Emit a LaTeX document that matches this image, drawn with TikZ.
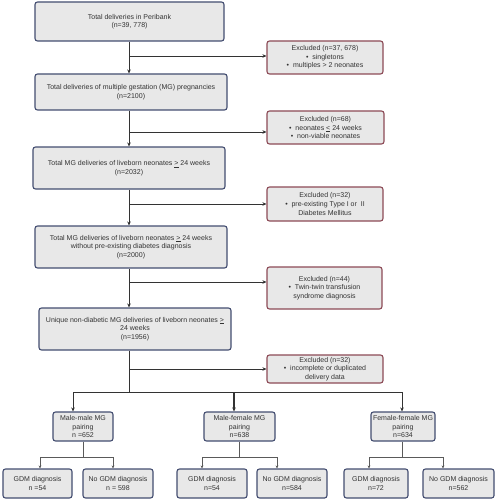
\documentclass[tikz,border=0pt]{standalone}
\usepackage{fontspec}
\setmainfont{Liberation Sans}
\usetikzlibrary{arrows.meta}
\definecolor{boxfill}{HTML}{E8E8E8}
\definecolor{mainborder}{HTML}{434D70}
\definecolor{exborder}{HTML}{8C4A56}
\definecolor{linecol}{HTML}{333333}
\definecolor{leafline}{HTML}{5A5A5A}
\definecolor{txt}{HTML}{333333}
\begin{document}
\begin{tikzpicture}[x=1pt,y=-1pt,
  box/.style={draw=mainborder, fill=boxfill, line width=1.1pt, rounded corners=2.5pt,
    align=center, inner sep=1pt, text=txt, font=\fontsize{7}{8.6}\selectfont},
  exbox/.style={box, draw=exborder},
  conn/.style={draw=linecol, line width=0.9pt},
  arr/.style={conn, -{Stealth[length=4pt,width=3.6pt]}},
  leafconn/.style={draw=leafline, line width=0.7pt},
  leafarr/.style={leafconn, -{Stealth[length=3pt,width=2.8pt]}}]
\useasboundingbox (0,0) rectangle (496,500);
% main column
\node[box, minimum width=189pt, minimum height=39pt] (b1) at (129.5,21.5)
  {Total deliveries in Peribank\\(n=39, 778)};
\node[box, minimum width=192pt, minimum height=36pt] (b2) at (131,92)
  {Total deliveries of multiple gestation (MG) pregnancies\\(n=2100)};
\node[box, minimum width=192pt, minimum height=42pt] (b3) at (129,168)
  {Total MG deliveries of liveborn neonates \underline{>} 24 weeks\\(n=2032)};
\node[box, minimum width=192pt, minimum height=42pt] (b4) at (131,247)
  {Total MG deliveries of liveborn neonates \underline{>} 24 weeks\\without pre-existing diabetes diagnosis\\(n=2000)};
\node[box, minimum width=192pt, minimum height=42pt] (b5) at (135,329)
  {Unique non-diabetic MG deliveries of liveborn neonates \underline{>}\\24 weeks\\(n=1956)};
% excluded boxes
\node[exbox, minimum width=116pt, minimum height=33pt] (e1) at (325,57.5)
  {Excluded (n=37, 678)\\\textbullet\ \ singletons\\\textbullet\ \ multiples > 2 neonates};
\node[exbox, minimum width=117pt, minimum height=33pt] (e2) at (325.5,127.5)
  {Excluded (n=68)\\\textbullet\ \ neonates \underline{<} 24 weeks\\\textbullet\ \ non-viable neonates};
\node[exbox, minimum width=116pt, minimum height=34pt] (e3) at (325,204)
  {Excluded (n=32)\\\textbullet\ \ pre-existing Type I or\ \ II\\Diabetes Mellitus};
\node[exbox, minimum width=115pt, minimum height=42pt] (e4) at (324.5,288)
  {Excluded (n=44)\\\textbullet\ \ Twin-twin transfusion\\syndrome diagnosis};
\node[exbox, minimum width=116pt, minimum height=28pt] (e5) at (325,369)
  {Excluded (n=32)\\\textbullet\ \ incomplete or duplicated\\delivery data};
% pairing boxes
\node[box, minimum width=60pt, minimum height=29pt] (m1) at (83,426.5)
  {Male-male MG\\pairing\\n =652};
\node[box, minimum width=71pt, minimum height=29pt] (m2) at (239.5,426.5)
  {Male-female MG\\pairing\\n=638};
\node[box, minimum width=64pt, minimum height=29pt] (m3) at (403,426.5)
  {Female-female MG\\pairing\\n=634};
% leaf boxes
\node[box, minimum width=69pt, minimum height=29pt] (g1) at (37.5,483.5)
  {GDM diagnosis\\n =54};
\node[box, minimum width=70pt, minimum height=29pt] (n1) at (118,483.5)
  {No GDM diagnosis\\n = 598};
\node[box, minimum width=70pt, minimum height=29pt] (g2) at (212,483.5)
  {GDM diagnosis\\n=54};
\node[box, minimum width=70pt, minimum height=29pt] (n2) at (292,483.5)
  {No GDM diagnosis\\n=584};
\node[box, minimum width=64pt, minimum height=29pt] (g3) at (376,483.5)
  {GDM diagnosis\\n=72};
\node[box, minimum width=71pt, minimum height=29pt] (n3) at (458.5,483.5)
  {No GDM diagnosis\\n=562};
% spine coordinates
\coordinate (j1) at (129,56);
\coordinate (j2) at (129,132);
\coordinate (j3) at (129,204);
\coordinate (j4) at (129,282);
\coordinate (j5) at (129,369);
\coordinate (s0) at (129,392);
\coordinate (sL) at (73,392);
\coordinate (sM) at (234,392);
\coordinate (sR) at (402,392);
% spine
\draw[arr] (b1.south -| j1) -- (b2.north -| j1);
\draw[arr] (b2.south -| j1) -- (b3.north -| j1);
\draw[arr] (b3.south -| j1) -- (b4.north -| j1);
\draw[arr] (b4.south -| j1) -- (b5.north -| j1);
\draw[conn] (b5.south -| j1) -- (s0);
% exclusions
\draw[arr] (j1) -- (j1 -| e1.west);
\draw[arr] (j2) -- (j2 -| e2.west);
\draw[arr] (j3) -- (j3 -| e3.west);
\draw[arr] (j4) -- (j4 -| e4.west);
\draw[arr] (j5) -- (j5 -| e5.west);
% split
\draw[conn] (sL) -- (sR);
\draw[arr] (sL) -- (sL |- m1.north);
\draw[arr, line width=1.4pt] (sM) -- (sM |- m2.north);
\draw[arr] (sR) -- (sR |- m3.north);
% leaves
\coordinate (t1) at (83,457);
\coordinate (t1a) at (40,457);
\coordinate (t1b) at (113,457);
\coordinate (t2) at (239,457);
\coordinate (t2a) at (202,457);
\coordinate (t2b) at (277,457);
\coordinate (t3) at (402,457);
\coordinate (t3a) at (369,457);
\coordinate (t3b) at (443,457);
\draw[leafconn] (m1.south -| t1) -- (t1);
\draw[leafconn] (t1a) -- (t1b);
\draw[leafarr] (t1a) -- (t1a |- g1.north);
\draw[leafarr] (t1b) -- (t1b |- n1.north);
\draw[leafconn] (m2.south -| t2) -- (t2);
\draw[leafconn] (t2a) -- (t2b);
\draw[leafarr] (t2a) -- (t2a |- g2.north);
\draw[leafarr] (t2b) -- (t2b |- n2.north);
\draw[leafconn] (m3.south -| t3) -- (t3);
\draw[leafconn] (t3a) -- (t3b);
\draw[leafarr] (t3a) -- (t3a |- g3.north);
\draw[leafarr] (t3b) -- (t3b |- n3.north);
\end{tikzpicture}
\end{document}
